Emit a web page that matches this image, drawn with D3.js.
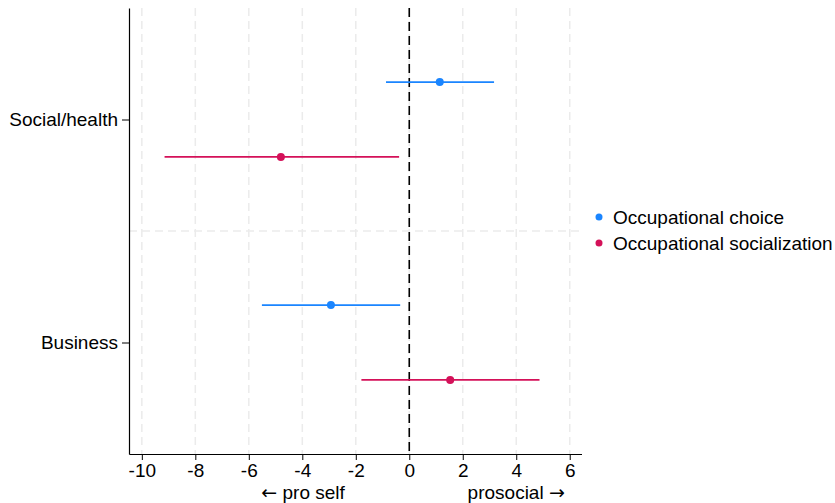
<!DOCTYPE html>
<html><head><meta charset="utf-8">
<script src="https://cdn.jsdelivr.net/npm/d3@7"></script>
<style>body{margin:0;background:#fff;} text{font-family:"Liberation Sans",Arial,Helvetica,sans-serif;}</style>
</head><body><svg id="c" width="835" height="503"></svg>
<script>
const categories = ["Social/health", "Business"];
const seriesNames = ["Occupational choice", "Occupational socialization"];
const seriesColors = ["#1A85FF", "#D41159"];
// estimates [Social/health, Business]
const choiceEst = [1.14, -2.93];
const choiceLo = [-0.87, -5.51];
const choiceHi = [3.17, -0.34];
const socialEst = [-4.80, 1.53];
const socialLo = [-9.15, -1.79];
const socialHi = [-0.38, 4.87];
const xTicks = [-10, -8, -6, -4, -2, 0, 2, 4, 6];
const catPos = [2, 1];
const seriesOffset = [0.168, -0.168];

(function () {
const svg = d3.select("#c");
const mLeft = 129, mRight = 581.5, mTop = 8, mBottom = 454;
const fs = 19;
const x = d3.scaleLinear().domain([-10.48, 6.44]).range([mLeft, mRight]);
const y = d3.scaleLinear().domain([0.5, 2.5]).range([mBottom, mTop]);

// grid
svg.append("g").selectAll("line").data(xTicks).join("line")
  .attr("x1", d => x(d)).attr("x2", d => x(d)).attr("y1", mTop).attr("y2", mBottom)
  .attr("stroke", "#ebebeb").attr("stroke-width", 1.5).attr("stroke-dasharray", "8,5");
svg.append("line").attr("x1", mLeft).attr("x2", mRight).attr("y1", y(1.5)).attr("y2", y(1.5))
  .attr("stroke", "#ebebeb").attr("stroke-width", 1.5).attr("stroke-dasharray", "8,5");

// zero line
svg.append("line").attr("x1", x(0)).attr("x2", x(0)).attr("y1", mTop).attr("y2", mBottom)
  .attr("stroke", "#000").attr("stroke-width", 1.6).attr("stroke-dasharray", "9,5");

// axes
const xAxis = svg.append("g").attr("transform", `translate(0,${mBottom})`)
  .call(d3.axisBottom(x).tickValues(xTicks).tickSize(6).tickSizeOuter(0).tickFormat(d => d < 0 ? "-" + Math.abs(d) : d));
xAxis.select(".domain").attr("stroke", "#000").attr("stroke-width", 1.2);
xAxis.selectAll(".tick line").attr("stroke", "#000").attr("stroke-width", 1);
xAxis.selectAll("text").attr("font-size", fs).attr("y", 8).attr("dy", "0.8em").attr("fill", "#000");

const yAxis = svg.append("g").attr("transform", `translate(${mLeft},0)`)
  .call(d3.axisLeft(y).tickValues(catPos).tickSize(7).tickSizeOuter(0).tickFormat((d, i) => categories[i]));
yAxis.select(".domain").attr("stroke", "#000").attr("stroke-width", 1.2);
yAxis.selectAll(".tick line").attr("stroke", "#000");
yAxis.selectAll("text").attr("font-size", fs).attr("fill", "#000").attr("x", -11);

// axis notes
const n1 = svg.append("text").attr("x", x(-3.97)).attr("y", 499).attr("text-anchor", "middle").attr("font-size", fs);
n1.append("tspan").attr("font-family", "DejaVu Sans").text("←");
n1.append("tspan").text(" pro self");
const n2 = svg.append("text").attr("x", x(4.0)).attr("y", 499).attr("text-anchor", "middle").attr("font-size", fs);
n2.append("tspan").text("prosocial ");
n2.append("tspan").attr("font-family", "DejaVu Sans").text("→");

// data
const series = [
  {est: choiceEst, lo: choiceLo, hi: choiceHi},
  {est: socialEst, lo: socialLo, hi: socialHi}
];
series.forEach((s, si) => {
  const g = svg.append("g");
  const rows = categories.map((c, i) => ({yv: catPos[i] + seriesOffset[si], est: s.est[i], lo: s.lo[i], hi: s.hi[i]}));
  g.selectAll("line").data(rows).join("line")
    .attr("x1", d => x(d.lo)).attr("x2", d => x(d.hi))
    .attr("y1", d => y(d.yv)).attr("y2", d => y(d.yv))
    .attr("stroke", seriesColors[si]).attr("stroke-width", 1.8);
  g.selectAll("circle").data(rows).join("circle")
    .attr("cx", d => x(d.est)).attr("cy", d => y(d.yv)).attr("r", 4)
    .attr("fill", seriesColors[si]);
});

// legend
const lg = svg.append("g");
seriesNames.forEach((n, i) => {
  const yy = 217 + i * 26;
  lg.append("circle").attr("cx", 599).attr("cy", yy).attr("r", 3.5).attr("fill", seriesColors[i]);
  lg.append("text").attr("x", 613).attr("y", yy).attr("dy", "0.35em").attr("font-size", fs).text(n);
});
})();
</script></body></html>
